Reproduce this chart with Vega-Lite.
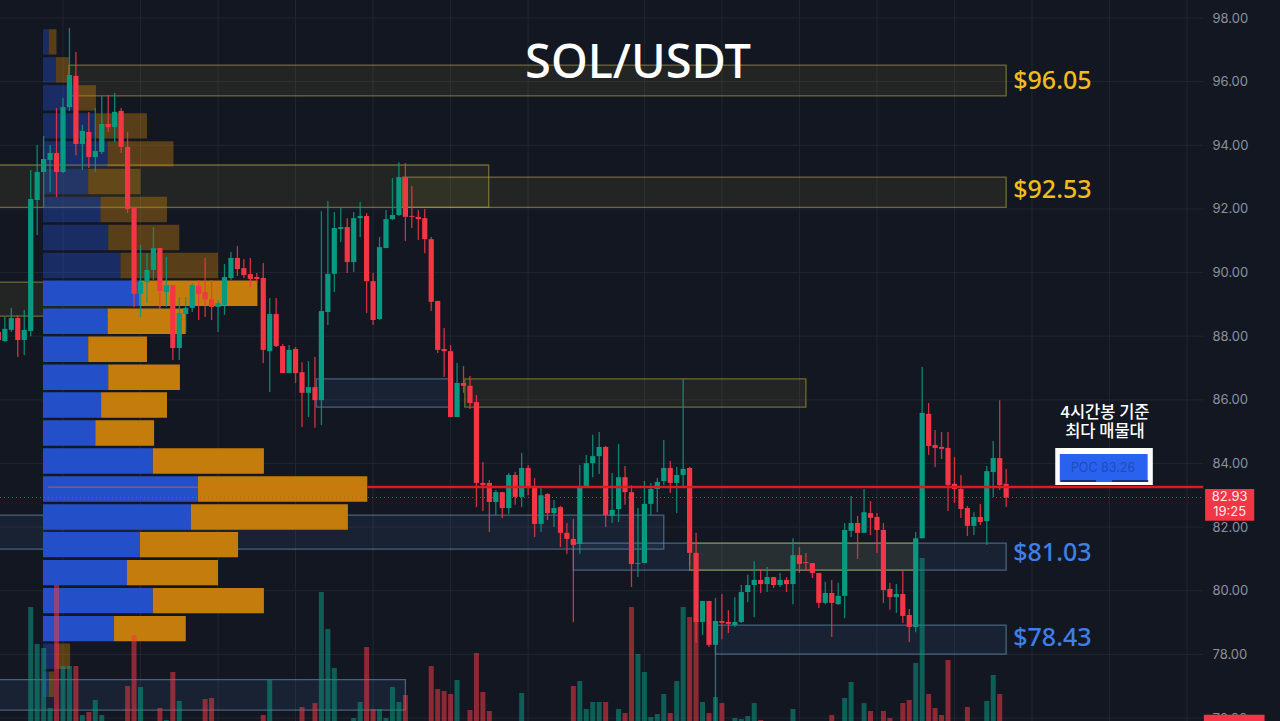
{"$schema":"https://vega.github.io/schema/vega-lite/v6.json","width":1280,"height":721,"padding":0,"autosize":{"type":"none"},"background":"#131722","config":{"view":{"stroke":null},"scale":{"continuousPadding":0}},
"datasets":{
"candles":[
{"i":-5,"d":"r","o":88.13,"c":87.88,"h":88.35,"l":87.72},{"i":-4,"d":"g","o":87.85,"c":88.23,"h":88.6,"l":87.82},{"i":-3,"d":"g","o":88.2,"c":88.57,"h":88.89,"l":88.13},{"i":-2,"d":"r","o":88.57,"c":87.88,"h":88.67,"l":87.35},{"i":-1,"d":"g","o":87.88,"c":88.2,"h":88.82,"l":87.41},
{"i":0,"d":"g","o":88.16,"c":92.31,"h":93.22,"l":88},{"i":1,"d":"g","o":92.28,"c":93.16,"h":94.01,"l":91.18},{"i":2,"d":"g","o":93.16,"c":93.57,"h":94.29,"l":92.03},{"i":3,"d":"g","o":93.54,"c":93.76,"h":94.01,"l":92.53},{"i":4,"d":"r","o":93.76,"c":93.16,"h":95.17,"l":92.37},{"i":5,"d":"g","o":93.16,"c":95.2,"h":95.49,"l":93.13},{"i":6,"d":"g","o":95.2,"c":96.21,"h":97.69,"l":95.08},{"i":7,"d":"r","o":96.18,"c":94.04,"h":96.93,"l":93.69},{"i":8,"d":"g","o":94.04,"c":94.45,"h":94.64,"l":93.22},{"i":9,"d":"r","o":94.42,"c":93.63,"h":95.05,"l":93.29},
{"i":10,"d":"g","o":93.63,"c":93.82,"h":95.17,"l":93.16},{"i":11,"d":"g","o":93.79,"c":94.67,"h":95.55,"l":93.73},{"i":12,"d":"r","o":94.67,"c":94.57,"h":95.58,"l":94.42},{"i":13,"d":"g","o":94.57,"c":95.05,"h":95.64,"l":94.1},{"i":14,"d":"r","o":95.08,"c":93.95,"h":95.17,"l":93.76},{"i":15,"d":"r","o":93.95,"c":92,"h":94.42,"l":91.87},{"i":16,"d":"r","o":92.03,"c":89.33,"h":92.06,"l":88.92},{"i":17,"d":"g","o":89.33,"c":89.7,"h":90.87,"l":88.6},{"i":18,"d":"g","o":89.7,"c":90.08,"h":90.61,"l":89.04},{"i":19,"d":"g","o":90.08,"c":90.77,"h":91.43,"l":89.77},
{"i":20,"d":"r","o":90.77,"c":89.42,"h":90.77,"l":88.92},{"i":21,"d":"g","o":89.39,"c":89.61,"h":90.49,"l":88.92},{"i":22,"d":"r","o":89.61,"c":87.63,"h":89.61,"l":87.25},{"i":23,"d":"g","o":87.63,"c":88.73,"h":89.23,"l":87.25},{"i":24,"d":"g","o":88.7,"c":88.89,"h":89.23,"l":88.13},{"i":25,"d":"g","o":88.89,"c":89.61,"h":89.67,"l":88.76},{"i":26,"d":"r","o":89.58,"c":89.33,"h":89.77,"l":88.51},{"i":27,"d":"r","o":89.39,"c":89.16,"h":90.46,"l":88.6},{"i":28,"d":"r","o":89.16,"c":88.92,"h":89.77,"l":88.51},{"i":29,"d":"g","o":88.92,"c":89.04,"h":89.14,"l":88.13},
{"i":30,"d":"g","o":88.98,"c":89.86,"h":90.27,"l":88.67},{"i":31,"d":"g","o":89.83,"c":90.46,"h":90.65,"l":89.77},{"i":32,"d":"r","o":90.46,"c":90.11,"h":90.83,"l":89.89},{"i":33,"d":"r","o":90.14,"c":89.92,"h":90.43,"l":89.83},{"i":34,"d":"r","o":89.95,"c":89.8,"h":90.46,"l":89.55},{"i":35,"d":"r","o":89.86,"c":89.8,"h":89.99,"l":89.67},{"i":36,"d":"r","o":89.83,"c":87.57,"h":90.3,"l":87.16},{"i":37,"d":"g","o":87.53,"c":88.7,"h":89.2,"l":86.25},{"i":38,"d":"r","o":88.7,"c":87.69,"h":89.2,"l":87.66},{"i":39,"d":"r","o":87.69,"c":86.84,"h":87.76,"l":86.84},
{"i":40,"d":"g","o":86.84,"c":87.57,"h":87.72,"l":86.84},{"i":41,"d":"r","o":87.6,"c":86.84,"h":87.66,"l":86.53},{"i":42,"d":"r","o":86.87,"c":86.22,"h":87.18,"l":85.15},{"i":43,"d":"g","o":86.22,"c":86.4,"h":87.22,"l":85.46},{"i":44,"d":"r","o":86.4,"c":85.99,"h":87.35,"l":85.12},{"i":45,"d":"g","o":85.99,"c":88.79,"h":91.93,"l":85.21},{"i":46,"d":"g","o":88.76,"c":89.96,"h":92.25,"l":88.35},{"i":47,"d":"g","o":89.96,"c":91.4,"h":91.9,"l":89.39},{"i":48,"d":"g","o":91.37,"c":91.43,"h":92.03,"l":90.96},{"i":49,"d":"r","o":91.43,"c":90.33,"h":91.71,"l":89.99},
{"i":50,"d":"g","o":90.33,"c":91.71,"h":91.9,"l":90.02},{"i":51,"d":"g","o":91.71,"c":91.78,"h":92.22,"l":91.12},{"i":52,"d":"r","o":91.78,"c":89.73,"h":91.87,"l":88.73},{"i":53,"d":"r","o":89.73,"c":88.51,"h":89.99,"l":88.35},{"i":54,"d":"g","o":88.54,"c":90.8,"h":91.12,"l":88.51},{"i":55,"d":"g","o":90.77,"c":91.68,"h":91.97,"l":90.77},{"i":56,"d":"g","o":91.68,"c":91.81,"h":92.97,"l":91.65},{"i":57,"d":"g","o":91.81,"c":93,"h":93.47,"l":91.78},{"i":58,"d":"r","o":93,"c":91.75,"h":93.44,"l":90.99},{"i":59,"d":"r","o":91.78,"c":91.75,"h":92.72,"l":91.4},
{"i":60,"d":"r","o":91.75,"c":91.68,"h":91.97,"l":91.02},{"i":61,"d":"r","o":91.71,"c":91.05,"h":92,"l":90.61},{"i":62,"d":"r","o":91.05,"c":89.08,"h":91.12,"l":88.79},{"i":63,"d":"r","o":89.11,"c":87.57,"h":89.11,"l":87.47},{"i":64,"d":"r","o":87.6,"c":87.53,"h":88.26,"l":86.72},{"i":65,"d":"r","o":87.53,"c":85.46,"h":87.72,"l":85.46},{"i":66,"d":"g","o":85.46,"c":86.53,"h":87.16,"l":85.46},{"i":67,"d":"r","o":86.53,"c":86.44,"h":87.06,"l":86.22},{"i":68,"d":"r","o":86.44,"c":85.9,"h":86.75,"l":85.71},{"i":69,"d":"r","o":85.93,"c":83.39,"h":86.15,"l":82.63},
{"i":70,"d":"r","o":83.39,"c":83.32,"h":84.05,"l":82.51},{"i":71,"d":"r","o":83.39,"c":82.79,"h":83.48,"l":81.85},{"i":72,"d":"g","o":82.79,"c":83.1,"h":83.17,"l":82.38},{"i":73,"d":"r","o":83.1,"c":82.6,"h":83.1,"l":82.29},{"i":74,"d":"g","o":82.6,"c":83.64,"h":83.7,"l":82.41},{"i":75,"d":"r","o":83.64,"c":82.95,"h":83.73,"l":82.7},{"i":76,"d":"g","o":82.95,"c":83.86,"h":84.33,"l":82.63},{"i":77,"d":"r","o":83.86,"c":83.26,"h":83.95,"l":83},{"i":78,"d":"r","o":83.29,"c":82.1,"h":83.54,"l":81.69},{"i":79,"d":"g","o":82.1,"c":83,"h":83.23,"l":81.85},
{"i":80,"d":"r","o":83.04,"c":82.44,"h":83.07,"l":82.22},{"i":81,"d":"g","o":82.44,"c":82.6,"h":82.85,"l":82},{"i":82,"d":"r","o":82.63,"c":81.82,"h":82.67,"l":81.37},{"i":83,"d":"r","o":81.82,"c":81.63,"h":82.13,"l":81.16},{"i":84,"d":"r","o":81.63,"c":81.44,"h":82.26,"l":79.01},{"i":85,"d":"g","o":81.47,"c":83.26,"h":83.95,"l":81.16},{"i":86,"d":"g","o":83.26,"c":84.01,"h":84.27,"l":83.26},{"i":87,"d":"g","o":84.01,"c":84.23,"h":84.9,"l":83.57},{"i":88,"d":"g","o":84.23,"c":84.52,"h":84.99,"l":83.67},{"i":89,"d":"r","o":84.52,"c":82.38,"h":84.55,"l":82},
{"i":90,"d":"g","o":82.35,"c":82.54,"h":83.7,"l":82.13},{"i":91,"d":"g","o":82.57,"c":83.57,"h":84.61,"l":82.16},{"i":92,"d":"r","o":83.57,"c":83.1,"h":83.92,"l":82.7},{"i":93,"d":"r","o":83.1,"c":80.84,"h":83.32,"l":80.12},{"i":94,"d":"g","o":80.84,"c":80.87,"h":82.6,"l":80.43},{"i":95,"d":"g","o":80.87,"c":82.73,"h":83.45,"l":80.87},{"i":96,"d":"g","o":82.73,"c":83.2,"h":83.39,"l":82.38},{"i":97,"d":"g","o":83.2,"c":83.42,"h":83.54,"l":82.47},{"i":98,"d":"g","o":83.45,"c":83.86,"h":84.74,"l":83.32},{"i":99,"d":"r","o":83.86,"c":83.39,"h":84.08,"l":83.07},
{"i":100,"d":"g","o":83.39,"c":83.64,"h":83.89,"l":82.44},{"i":101,"d":"g","o":83.64,"c":83.83,"h":86.66,"l":83.26},{"i":102,"d":"r","o":83.86,"c":81.19,"h":83.89,"l":80.78},{"i":103,"d":"r","o":81.19,"c":79.02,"h":81.82,"l":78.36},{"i":104,"d":"g","o":79.02,"c":79.68,"h":79.68,"l":78.61},{"i":105,"d":"r","o":79.68,"c":78.3,"h":79.68,"l":78.23},{"i":106,"d":"g","o":78.3,"c":79.05,"h":79.77,"l":75.91},{"i":107,"d":"r","o":79.05,"c":78.99,"h":79.9,"l":78.48},{"i":108,"d":"r","o":79.02,"c":78.96,"h":79.39,"l":78.67},{"i":109,"d":"g","o":78.92,"c":79.02,"h":79.8,"l":78.86},
{"i":110,"d":"g","o":79.02,"c":79.96,"h":80.18,"l":78.99},{"i":111,"d":"g","o":79.96,"c":80.18,"h":80.5,"l":79.65},{"i":112,"d":"g","o":80.18,"c":80.34,"h":80.93,"l":79.17},{"i":113,"d":"r","o":80.34,"c":80.21,"h":80.68,"l":79.93},{"i":114,"d":"g","o":80.21,"c":80.43,"h":80.75,"l":79.96},{"i":115,"d":"r","o":80.43,"c":80.18,"h":80.43,"l":80.09},{"i":116,"d":"g","o":80.18,"c":80.34,"h":80.56,"l":80.12},{"i":117,"d":"r","o":80.34,"c":80.21,"h":80.43,"l":79.96},{"i":118,"d":"g","o":80.21,"c":81.12,"h":81.65,"l":79.58},{"i":119,"d":"r","o":81.12,"c":80.84,"h":81.37,"l":80.56},
{"i":120,"d":"r","o":80.9,"c":80.87,"h":81.19,"l":80.62},{"i":121,"d":"r","o":80.87,"c":80.56,"h":80.87,"l":80.4},{"i":122,"d":"r","o":80.56,"c":79.62,"h":80.56,"l":79.46},{"i":123,"d":"g","o":79.62,"c":79.93,"h":80.28,"l":79.58},{"i":124,"d":"r","o":79.93,"c":79.62,"h":80.34,"l":78.55},{"i":125,"d":"g","o":79.58,"c":79.84,"h":80.25,"l":79.55},{"i":126,"d":"g","o":79.84,"c":81.91,"h":82.13,"l":79.14},{"i":127,"d":"g","o":81.88,"c":82.13,"h":82.98,"l":81.69},{"i":128,"d":"r","o":82.13,"c":81.82,"h":82.35,"l":81},{"i":129,"d":"g","o":81.82,"c":82.47,"h":83.2,"l":81.82},
{"i":130,"d":"r","o":82.44,"c":82.29,"h":82.82,"l":81.75},{"i":131,"d":"r","o":82.32,"c":81.91,"h":82.44,"l":81.19},{"i":132,"d":"r","o":81.91,"c":80.02,"h":82.13,"l":79.62},{"i":133,"d":"r","o":80.06,"c":79.8,"h":80.25,"l":79.4},{"i":134,"d":"g","o":79.8,"c":79.9,"h":80.21,"l":79.3},{"i":135,"d":"r","o":79.9,"c":79.21,"h":80.62,"l":78.99},{"i":136,"d":"r","o":79.24,"c":78.86,"h":79.43,"l":78.39},{"i":137,"d":"g","o":78.86,"c":81.65,"h":81.85,"l":78.7},{"i":138,"d":"g","o":81.65,"c":85.59,"h":87.03,"l":81.65},{"i":139,"d":"r","o":85.56,"c":84.55,"h":85.9,"l":84.27},
{"i":140,"d":"r","o":84.58,"c":84.49,"h":85.05,"l":83.89},{"i":141,"d":"r","o":84.52,"c":84.46,"h":84.99,"l":84.14},{"i":142,"d":"r","o":84.49,"c":83.32,"h":84.99,"l":82.51},{"i":143,"d":"r","o":83.36,"c":83.2,"h":84.2,"l":82.76},{"i":144,"d":"r","o":83.2,"c":82.57,"h":83.64,"l":82.29},{"i":145,"d":"r","o":82.6,"c":82.04,"h":82.67,"l":81.72},{"i":146,"d":"g","o":82.04,"c":82.32,"h":82.47,"l":81.75},{"i":147,"d":"r","o":82.32,"c":82.16,"h":82.73,"l":82.07},{"i":148,"d":"g","o":82.19,"c":83.76,"h":83.92,"l":81.44},{"i":149,"d":"g","o":83.73,"c":84.17,"h":84.71,"l":82.95},
{"i":150,"d":"r","o":84.17,"c":83.32,"h":85.99,"l":83.17},{"i":151,"d":"r","o":83.36,"c":82.93,"h":83.83,"l":82.63}],
"volume":[{"i":0,"d":"g","v":114},{"i":1,"d":"g","v":77},{"i":2,"d":"g","v":73},{"i":3,"d":"g","v":13},{"i":4,"d":"r","v":136},{"i":5,"d":"g","v":55},{"i":6,"d":"g","v":55},{"i":7,"d":"r","v":55},{"i":8,"d":"g","v":6},{"i":9,"d":"r","v":9},{"i":10,"d":"g","v":21},{"i":11,"d":"g","v":6},{"i":15,"d":"r","v":35},{"i":16,"d":"r","v":86},{"i":17,"d":"g","v":34},{"i":20,"d":"r","v":13},{"i":21,"d":"g","v":1},{"i":22,"d":"r","v":49},{"i":23,"d":"g","v":20},{"i":27,"d":"r","v":22},{"i":28,"d":"r","v":23},{"i":36,"d":"r","v":6},{"i":37,"d":"g","v":41},{"i":42,"d":"r","v":14},{"i":44,"d":"r","v":18},{"i":45,"d":"g","v":129},{"i":46,"d":"g","v":92},{"i":47,"d":"g","v":53},{"i":50,"d":"g","v":3},{"i":51,"d":"g","v":19},{"i":52,"d":"r","v":74},{"i":53,"d":"r","v":12},{"i":54,"d":"g","v":12},{"i":55,"d":"g","v":3},{"i":56,"d":"g","v":34},{"i":57,"d":"g","v":19},{"i":58,"d":"r","v":26},{"i":62,"d":"r","v":55},{"i":63,"d":"r","v":32},{"i":64,"d":"r","v":30},{"i":65,"d":"r","v":27},{"i":66,"d":"g","v":41},{"i":68,"d":"r","v":11},{"i":69,"d":"r","v":68},{"i":70,"d":"r","v":29},{"i":71,"d":"r","v":10},{"i":76,"d":"g","v":28},{"i":84,"d":"r","v":35},{"i":85,"d":"g","v":40},{"i":86,"d":"g","v":12},{"i":87,"d":"g","v":19},{"i":88,"d":"g","v":19},{"i":89,"d":"r","v":19},{"i":91,"d":"g","v":12},{"i":92,"d":"r","v":8},{"i":93,"d":"r","v":114},{"i":94,"d":"g","v":67},{"i":95,"d":"g","v":49},{"i":96,"d":"g","v":4},{"i":97,"d":"g","v":7},{"i":98,"d":"g","v":27},{"i":99,"d":"r","v":8},{"i":100,"d":"g","v":40},{"i":101,"d":"g","v":114},{"i":102,"d":"r","v":104},{"i":103,"d":"r","v":101},{"i":104,"d":"g","v":19},{"i":105,"d":"r","v":8},{"i":106,"d":"g","v":24},{"i":107,"d":"r","v":18},{"i":109,"d":"g","v":3},{"i":110,"d":"g","v":2},{"i":111,"d":"g","v":5},{"i":112,"d":"g","v":18},{"i":113,"d":"r","v":1},{"i":118,"d":"g","v":12},{"i":124,"d":"r","v":6},{"i":126,"d":"g","v":23},{"i":127,"d":"g","v":39},{"i":129,"d":"g","v":18},{"i":130,"d":"r","v":10},{"i":132,"d":"r","v":10},{"i":133,"d":"r","v":3},{"i":135,"d":"r","v":18},{"i":136,"d":"r","v":21},{"i":137,"d":"g","v":58},{"i":138,"d":"g","v":163},{"i":139,"d":"r","v":27},{"i":140,"d":"r","v":13},{"i":141,"d":"r","v":6},{"i":142,"d":"r","v":61},{"i":145,"d":"r","v":14},{"i":148,"d":"g","v":20},{"i":149,"d":"g","v":46},{"i":150,"d":"r","v":27}],
"profile":[{"t":97.65,"b":96.85,"z":1.9,"s":2.8,"e":4,"a":"n"},{"t":96.77,"b":95.97,"z":1.9,"s":3.9,"e":5.9,"a":"n"},{"t":95.89,"b":95.09,"z":1.9,"s":7.3,"e":10.1,"a":"n"},{"t":95.01,"b":94.21,"z":1.9,"s":10.1,"e":18,"a":"n"},{"t":94.13,"b":93.33,"z":1.9,"s":11.9,"e":22.1,"a":"n"},{"t":93.26,"b":92.46,"z":1.9,"s":8.9,"e":17,"a":"n"},{"t":92.38,"b":91.58,"z":1.9,"s":10.8,"e":21.1,"a":"n"},{"t":91.5,"b":90.7,"z":1.9,"s":12,"e":23,"a":"n"},{"t":90.62,"b":89.82,"z":1.9,"s":13.9,"e":29,"a":"n"},{"t":89.75,"b":88.95,"z":1.9,"s":16.8,"e":35.1,"a":"y"},{"t":88.87,"b":88.07,"z":1.9,"s":11.9,"e":24,"a":"y"},{"t":87.99,"b":87.19,"z":1.9,"s":8.9,"e":18,"a":"y"},{"t":87.11,"b":86.31,"z":1.9,"s":12,"e":23.1,"a":"y"},{"t":86.24,"b":85.44,"z":1.9,"s":10.9,"e":21.1,"a":"y"},{"t":85.36,"b":84.56,"z":1.9,"s":10,"e":19.1,"a":"y"},{"t":84.48,"b":83.68,"z":1.9,"s":18.9,"e":36.1,"a":"y"},{"t":83.6,"b":82.8,"z":1.9,"s":25.9,"e":52.1,"a":"y"},{"t":82.72,"b":81.92,"z":1.9,"s":24.8,"e":49.1,"a":"y"},{"t":81.85,"b":81.05,"z":1.9,"s":16.9,"e":32.1,"a":"y"},{"t":80.97,"b":80.17,"z":1.9,"s":14.9,"e":29,"a":"y"},{"t":80.09,"b":79.29,"z":1.9,"s":18.9,"e":36.1,"a":"y"},{"t":79.21,"b":78.41,"z":1.9,"s":12.9,"e":24,"a":"y"},{"t":78.34,"b":77.54,"z":1.9,"s":3.8,"e":6.1,"a":"n"},{"t":77.46,"b":76.66,"z":1.9,"s":2.8,"e":3.6,"a":"n"}],
"zones":[{"k":"blue","x0":44.2,"x1":65,"top":86.66,"bot":85.77},{"k":"blue","x0":-6,"x1":98,"top":82.38,"bot":81.31},{"k":"blue","x0":84,"x1":151,"top":81.5,"bot":80.65},{"k":"blue","x0":106,"x1":151,"top":78.92,"bot":78.01},{"k":"blue","x0":-6,"x1":58,"top":77.21,"bot":76.25},{"k":"gold","x0":5.9,"x1":151,"top":96.52,"bot":95.55},{"k":"gold","x0":-6,"x1":70.9,"top":93.38,"bot":92.05},{"k":"gold","x0":57.6,"x1":151,"top":93,"bot":92.05},{"k":"gold","x0":-6,"x1":20,"top":89.7,"bot":88.63},{"k":"gold","x0":67.2,"x1":120,"top":86.66,"bot":85.77},{"k":"gold","x0":102,"x1":137,"top":81.5,"bot":80.65}],
"hgrid":[{"p":98,"a":-4.75,"b":181.5},{"p":96,"a":-4.75,"b":181.5},{"p":94,"a":-4.75,"b":181.5},{"p":92,"a":-4.75,"b":181.5},{"p":90,"a":-4.75,"b":181.5},{"p":88,"a":-4.75,"b":181.5},{"p":86,"a":-4.75,"b":181.5},{"p":84,"a":-4.75,"b":181.5},{"p":82,"a":-4.75,"b":181.5},{"p":80,"a":-4.75,"b":181.5},{"p":78,"a":-4.75,"b":181.5},{"p":76,"a":-4.75,"b":181.5}],
"vgrid":[{"i":5,"a":75.907,"b":98.566},{"i":17,"a":75.907,"b":98.566},{"i":29,"a":75.907,"b":98.566},{"i":41,"a":75.907,"b":98.566},{"i":53,"a":75.907,"b":98.566},{"i":65,"a":75.907,"b":98.566},{"i":77,"a":75.907,"b":98.566},{"i":95,"a":75.907,"b":98.566},{"i":107,"a":75.907,"b":98.566},{"i":119,"a":75.907,"b":98.566},{"i":131,"a":75.907,"b":98.566},{"i":143,"a":75.907,"b":98.566},{"i":155,"a":75.907,"b":98.566},{"i":167,"a":75.907,"b":98.566},{"i":179,"a":75.907,"b":98.566}],
"levels":[{"i":152.1,"p":96.02,"t":"$96.05","k":"gold"},{"i":152.1,"p":92.6,"t":"$92.53","k":"gold"},{"i":152.1,"p":81.2,"t":"$81.03","k":"blue"},{"i":152.1,"p":78.5,"t":"$78.43","k":"blue"}],
"hlines":[{"k":"dot","p":82.93,"a":-4.75,"b":181.5},{"k":"faint","p":83.26,"a":2.7,"b":52.1},{"k":"poc","p":83.26,"a":52.1,"b":181.5}]
},
"resolve":{"scale":{"y":"independent"}},
"layer":[
{"layer":[
{"data":{"name":"hgrid"},"mark":{"type":"rule","color":"#222631","strokeWidth":1},"encoding":{"x":{"field":"a","type":"quantitative","scale":{"domain":[-4.752,193.39],"nice":false,"zero":false,"padding":0},"axis":null},"x2":{"field":"b"},"y":{"field":"p","type":"quantitative","scale":{"domain":[75.907,98.566],"nice":false,"zero":false},"axis":{"orient":"right","offset":-70,"labelPadding":2,"ticks":false,"domain":false,"grid":false,"values":[76,78,80,82,84,86,88,90,92,94,96,98],"format":".2f","labelColor":"#8d919c","labelFontSize":13,"labelFont":"Inter","title":null}}}},
{"data":{"name":"vgrid"},"mark":{"type":"rule","color":"#222631","strokeWidth":1},"encoding":{"x":{"field":"i","type":"quantitative"},"y":{"field":"a","type":"quantitative"},"y2":{"field":"b"}}},
{"data":{"name":"zones"},"mark":{"type":"rect","fillOpacity":0.1,"strokeOpacity":0.55,"strokeWidth":1.3},"encoding":{"x":{"field":"x0","type":"quantitative"},"x2":{"field":"x1"},"y":{"field":"top","type":"quantitative"},"y2":{"field":"bot"},"fill":{"field":"k","type":"nominal","legend":null,"scale":{"domain":["gold","blue"],"range":["#b5a93a","#4a86c0"]}},"stroke":{"field":"k","type":"nominal","legend":null,"scale":{"domain":["gold","blue"],"range":["#b5a93a","#6f9cc0"]}}}},
{"data":{"name":"profile"},"mark":{"type":"rect","color":"#2350c8"},"encoding":{"x":{"field":"z","type":"quantitative"},"x2":{"field":"s"},"y":{"field":"t","type":"quantitative"},"y2":{"field":"b"},"opacity":{"field":"a","type":"nominal","legend":null,"scale":{"domain":["y","n"],"range":[1,0.4]}}}},
{"data":{"name":"profile"},"mark":{"type":"rect","color":"#c47d0c"},"encoding":{"x":{"field":"s","type":"quantitative"},"x2":{"field":"e"},"y":{"field":"t","type":"quantitative"},"y2":{"field":"b"},"opacity":{"field":"a","type":"nominal","legend":null,"scale":{"domain":["y","n"],"range":[1,0.4]}}}}
]},
{"data":{"name":"volume"},"mark":{"type":"bar","size":5,"opacity":0.55},"encoding":{"x":{"field":"i","type":"quantitative"},"y":{"field":"v","type":"quantitative","stack":null,"axis":null,"scale":{"domain":[0,721],"nice":false}},"color":{"field":"d","type":"nominal","legend":null,"scale":{"domain":["g","r"],"range":["#089981","#f23645"]}}}},
{"layer":[
{"data":{"name":"candles"},"mark":{"type":"rule","strokeWidth":1.3,"opacity":0.85},"encoding":{"x":{"field":"i","type":"quantitative"},"y":{"field":"h","type":"quantitative","axis":null,"scale":{"domain":[75.907,98.566],"nice":false,"zero":false}},"y2":{"field":"l"},"color":{"field":"d","type":"nominal","legend":null,"scale":{"domain":["g","r"],"range":["#089981","#f23645"]}}}},
{"data":{"name":"candles"},"mark":{"type":"bar","size":5.2},"encoding":{"x":{"field":"i","type":"quantitative"},"y":{"field":"o","type":"quantitative"},"y2":{"field":"c"},"color":{"field":"d","type":"nominal","legend":null,"scale":{"domain":["g","r"],"range":["#089981","#f23645"]}}}},
{"data":{"name":"hlines"},"transform":[{"filter":"datum.k=='dot'"}],"mark":{"type":"rule","color":"#f23645","strokeWidth":1,"strokeDash":[1,3],"opacity":0.8},"encoding":{"x":{"field":"a","type":"quantitative"},"x2":{"field":"b"},"y":{"field":"p","type":"quantitative"}}},
{"data":{"name":"hlines"},"transform":[{"filter":"datum.k=='faint'"}],"mark":{"type":"rule","color":"#f0641e","strokeWidth":1.2,"opacity":0.6},"encoding":{"x":{"field":"a","type":"quantitative"},"x2":{"field":"b"},"y":{"field":"p","type":"quantitative"}}},
{"data":{"name":"hlines"},"transform":[{"filter":"datum.k=='poc'"}],"mark":{"type":"rule","color":"#dc1c1c","strokeWidth":2.4},"encoding":{"x":{"field":"a","type":"quantitative"},"x2":{"field":"b"},"y":{"field":"p","type":"quantitative"}}},
{"data":{"values":[{"x0":158.6,"x1":173.7,"top":84.49,"bot":83.32}]},"mark":{"type":"rect","color":"#ffffff"},"encoding":{"x":{"field":"x0","type":"quantitative"},"x2":{"field":"x1"},"y":{"field":"top","type":"quantitative"},"y2":{"field":"bot"}}},
{"data":{"values":[{"x0":159.3,"x1":172.9,"top":84.3,"bot":83.42}]},"mark":{"type":"rect","color":"#2a62f0"},"encoding":{"x":{"field":"x0","type":"quantitative"},"x2":{"field":"x1"},"y":{"field":"top","type":"quantitative"},"y2":{"field":"bot"}}},
{"data":{"values":[{"x0":159.5,"x1":164.9,"p":83.45},{"x0":167.4,"x1":173,"p":83.45}]},"mark":{"type":"rule","color":"#10204a","strokeWidth":1.3},"encoding":{"x":{"field":"x0","type":"quantitative"},"x2":{"field":"x1"},"y":{"field":"p","type":"quantitative"}}},
{"data":{"values":[{"i":166,"p":83.86,"t":"POC  83.26"}]},"mark":{"type":"text","font":"Inter","fontSize":12.5,"color":"#1f4bb8","align":"center","baseline":"middle"},"encoding":{"x":{"field":"i","type":"quantitative"},"y":{"field":"p","type":"quantitative"},"text":{"field":"t"}}},
{"data":{"values":[{"i":166.3,"p":85.59,"t":"4시간봉 기준"},{"i":166.3,"p":84.99,"t":"최다 매물대"}]},"mark":{"type":"text","font":"Noto Sans CJK KR","fontSize":16.5,"fontWeight":500,"color":"#ffffff","align":"center","baseline":"middle"},"encoding":{"x":{"field":"i","type":"quantitative"},"y":{"field":"p","type":"quantitative"},"text":{"field":"t"}}},
{"data":{"values":[{"x0":181.8,"x1":189.4,"top":83.2,"bot":82.2},{"x0":181.6,"x1":191,"top":76.1,"bot":75.8}]},"mark":{"type":"rect","color":"#f23645"},"encoding":{"x":{"field":"x0","type":"quantitative"},"x2":{"field":"x1"},"y":{"field":"top","type":"quantitative"},"y2":{"field":"bot"}}},
{"data":{"values":[{"i":185.6,"p":82.95,"t":"82.93"},{"i":185.6,"p":82.47,"t":"19:25"}]},"mark":{"type":"text","font":"Inter","fontSize":13,"color":"#ffe9ea","align":"center","baseline":"middle"},"encoding":{"x":{"field":"i","type":"quantitative"},"y":{"field":"p","type":"quantitative"},"text":{"field":"t"}}},
{"data":{"name":"levels"},"transform":[{"filter":"datum.k=='gold'"}],"mark":{"type":"text","font":"Noto Sans","fontSize":25,"fontWeight":500,"color":"#f2bc1b","align":"left","baseline":"middle"},"encoding":{"x":{"field":"i","type":"quantitative"},"y":{"field":"p","type":"quantitative"},"text":{"field":"t"}}},
{"data":{"name":"levels"},"transform":[{"filter":"datum.k=='blue'"}],"mark":{"type":"text","font":"Noto Sans","fontSize":25,"fontWeight":500,"color":"#3f7fe8","align":"left","baseline":"middle"},"encoding":{"x":{"field":"i","type":"quantitative"},"y":{"field":"p","type":"quantitative"},"text":{"field":"t"}}},
{"data":{"values":[{"i":94,"p":96.56,"t":"SOL/USDT"}]},"mark":{"type":"text","font":"Noto Sans","fontSize":47,"fontWeight":500,"color":"#ffffff","align":"center","baseline":"middle"},"encoding":{"x":{"field":"i","type":"quantitative"},"y":{"field":"p","type":"quantitative"},"text":{"field":"t"}}}
]}
]}
